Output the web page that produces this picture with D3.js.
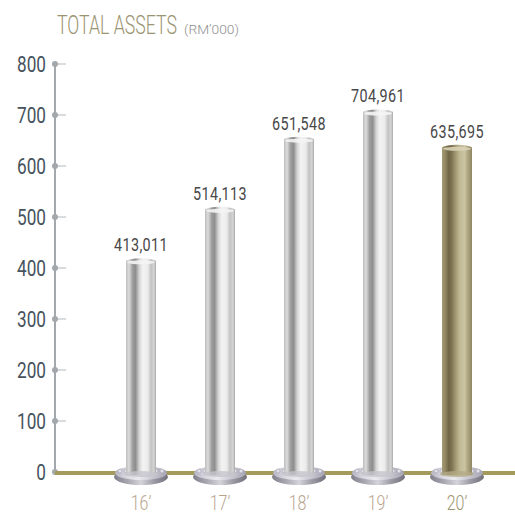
<!DOCTYPE html>
<html>
<head>
<meta charset="utf-8">
<script src="https://cdn.jsdelivr.net/npm/d3@7/dist/d3.min.js"></script>
<style>
  html, body { margin: 0; padding: 0; background: #fff; }
  svg { display: block; }
</style>
</head>
<body>
<svg id="chart" width="515" height="515"></svg>
<script>
// Total assets by financial year, RM'000
const years = ["16\u2019", "17\u2019", "18\u2019", "19\u2019", "20\u2019"];
const totalAssets = [413011, 514113, 651548, 704961, 635695];
const currentYear = "20\u2019";
const yTickValues = [0, 100000, 200000, 300000, 400000, 500000, 600000, 700000, 800000];

const svg = d3.select("#chart");
const FONT = "Roboto, 'DejaVu Sans Condensed', sans-serif";

const x = d3.scalePoint().domain(years).range([141, 457]);
const y = d3.scaleLinear().domain([0, 800000]).range([472, 64]);

// Squeeze a text horizontally so that it spans `width` pixels from its anchor.
function fitWidth(sel, width) {
  sel.each(function () {
    const t = d3.select(this);
    const w = this.getComputedTextLength();
    const base = t.attr("transform") || "";
    t.attr("transform", `${base} scale(${width / w},1)`);
  });
}

const defs = svg.append("defs");

function hGradient(id, stops) {
  const g = defs.append("linearGradient").attr("id", id)
    .attr("x1", "0%").attr("x2", "100%").attr("y1", "0%").attr("y2", "0%");
  stops.forEach(([o, c]) => g.append("stop").attr("offset", o).attr("stop-color", c));
}
hGradient("silver", [
  ["0%", "#bdbdbd"], ["10%", "#dcdcdc"], ["22%", "#9e9e9e"], ["32%", "#8e8e8e"],
  ["44%", "#d4d4d4"], ["56%", "#f3f3f3"], ["72%", "#ececec"], ["84%", "#c2c2c2"],
  ["93%", "#d6d6d6"], ["100%", "#a8a8a8"]
]);
hGradient("olive", [
  ["0%", "#a39a74"], ["10%", "#958b65"], ["22%", "#6f6647"], ["32%", "#7d7352"],
  ["46%", "#a49a74"], ["60%", "#c2ba96"], ["75%", "#cbc4a2"], ["88%", "#a9a07c"],
  ["100%", "#8f8664"]
]);
hGradient("discTop", [
  ["0%", "#b6b4c1"], ["20%", "#d6d5de"], ["45%", "#eaeaee"], ["70%", "#cbcad4"],
  ["100%", "#a6a4b2"]
]);
hGradient("discRim", [
  ["0%", "#807e8a"], ["25%", "#a8a7b1"], ["50%", "#d4d4da"], ["75%", "#9a99a4"],
  ["100%", "#72717b"]
]);

// Title
svg.append("text")
  .attr("transform", "translate(57,34)")
  .attr("font-family", FONT).attr("font-weight", 300)
  .attr("font-size", 25)
  .attr("fill", "#9b9472")
  .text("TOTAL ASSETS")
  .call(fitWidth, 120);
svg.append("text")
  .attr("transform", "translate(184,34)")
  .attr("font-family", FONT).attr("font-weight", 300)
  .attr("font-size", 12)
  .attr("fill", "#8f8f8f")
  .text("(RM\u2019000)")
  .call(fitWidth, 55);

// Y axis: vertical rule, dotted ticks, condensed labels
const axisG = svg.append("g");
axisG.append("line")
  .attr("x1", 55).attr("x2", 55)
  .attr("y1", y(800000)).attr("y2", y(0))
  .attr("stroke", "#a3a8ad").attr("stroke-width", 2);

const ticks = axisG.selectAll("g.tick").data(yTickValues).join("g")
  .attr("class", "tick")
  .attr("transform", d => `translate(0,${y(d)})`);
ticks.append("line")
  .attr("x1", 55).attr("x2", 66)
  .attr("stroke", "#b3b7bb").attr("stroke-width", 1);
ticks.append("circle")
  .attr("cx", 55).attr("r", 3)
  .attr("fill", "#a3a8ad");
ticks.append("text")
  .attr("transform", "translate(46,0) scale(0.78,1)")
  .attr("dy", "0.36em")
  .attr("text-anchor", "end")
  .attr("font-family", FONT)
  .attr("font-size", 22)
  .attr("fill", "#46525d")
  .text(d => d3.format("d")(d / 1000));

// Baseline
svg.append("line")
  .attr("x1", 55).attr("x2", 515)
  .attr("y1", y(0) + 1).attr("y2", y(0) + 1)
  .attr("stroke", "#a39a5c").attr("stroke-width", 4);

const data = years.map((yr, i) => ({ year: yr, value: totalAssets[i] }));
const BW = 30;        // shaft width
const baseY = y(0) + 3;

const bars = svg.append("g").selectAll("g.bar").data(data).join("g").attr("class", "bar");

// Flanged foot under each pillar
bars.append("ellipse")
  .attr("cx", d => x(d.year)).attr("cy", baseY + 2)
  .attr("rx", 27).attr("ry", 8)
  .attr("fill", "url(#discRim)");
bars.append("ellipse")
  .attr("cx", d => x(d.year)).attr("cy", baseY - 2)
  .attr("rx", 26).attr("ry", 7)
  .attr("fill", "url(#discTop)");
// small bolts around the foot
bars.each(function (d) {
  const g = d3.select(this);
  const cx = x(d.year);
  [-21, -15, 15, 21].forEach(dx => {
    g.append("circle")
      .attr("cx", cx + dx).attr("cy", baseY - 4)
      .attr("r", 2).attr("fill", "#e2e0e8").attr("stroke", "#a3a1ae").attr("stroke-width", 0.6);
  });
});

// Pillar shaft with rounded top
bars.append("path")
  .attr("d", d => {
    const cx = x(d.year), top = y(d.value), r = BW / 2, ry = 3;
    return `M${cx - r},${baseY} L${cx - r},${top} A${r},${ry} 0 0 1 ${cx + r},${top} L${cx + r},${baseY} Z`;
  })
  .attr("fill", d => d.year === currentYear ? "url(#olive)" : "url(#silver)");
// top cap highlight
bars.append("ellipse")
  .attr("cx", d => x(d.year)).attr("cy", d => y(d.value) + 1)
  .attr("rx", BW / 2 - 1).attr("ry", 2)
  .attr("fill", d => d.year === currentYear ? "#d8d2b6" : "#f4f4f4")
  .attr("opacity", 0.9);
// slight flare at the foot of the shaft
bars.append("ellipse")
  .attr("cx", d => x(d.year)).attr("cy", baseY - 1)
  .attr("rx", BW / 2 + 2).attr("ry", 3)
  .attr("fill", d => d.year === currentYear ? "#b3aa86" : "#c4c4cc")
  .attr("opacity", 0.8);

// Value labels
bars.append("text")
  .attr("transform", d => `translate(${x(d.year)},${y(d.value) - 10})`)
  .attr("text-anchor", "middle")
  .attr("font-family", FONT)
  .attr("font-size", 18)
  .attr("letter-spacing", 0.5)
  .attr("fill", "#474747")
  .text(d => d3.format(",")(d.value))
  .call(fitWidth, 54);

// Year labels
svg.append("g").selectAll("text").data(years).join("text")
  .attr("transform", d => `translate(${x(d)},510) scale(0.8,1)`)
  .attr("text-anchor", "middle")
  .attr("font-family", FONT).attr("font-weight", 300)
  .attr("font-size", 20)
  .attr("fill", d => d === currentYear ? "#9e9672" : "#b9a58f")
  .text(d => d);
</script>
</body>
</html>
